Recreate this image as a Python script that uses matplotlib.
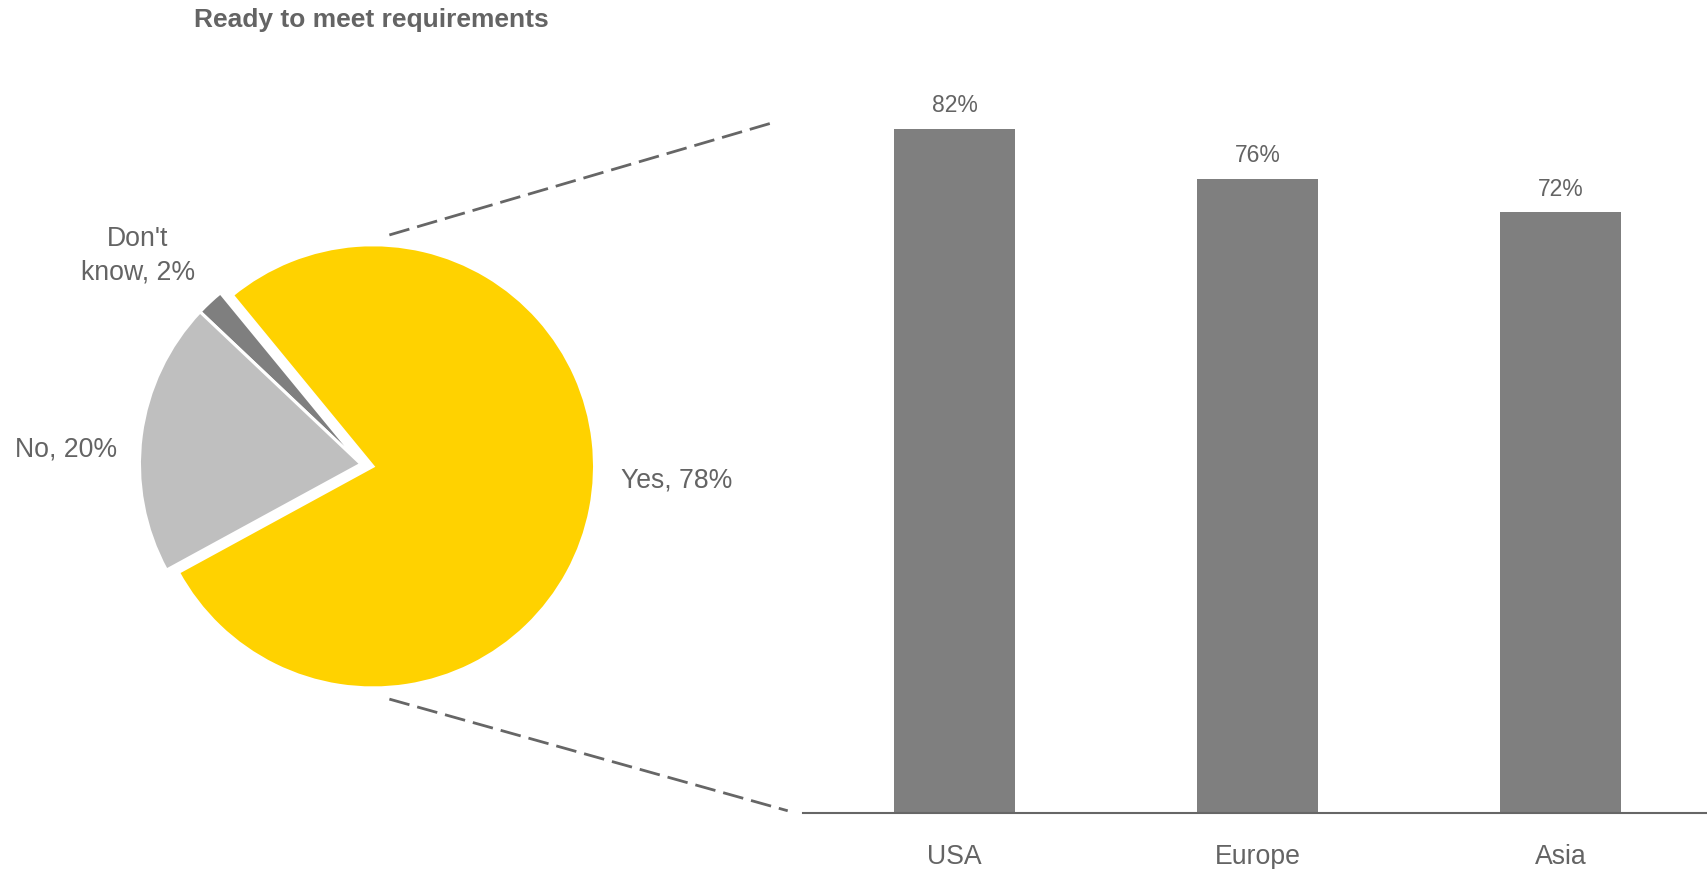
"""Readiness survey: overall pie (Yes / No / Don't know) + regional split of 'Yes'."""
import matplotlib
matplotlib.use("Agg")
import matplotlib.pyplot as plt

plt.rcParams.update({
    "font.family": ["Liberation Sans", "DejaVu Sans"],
    "text.color": "#646464",
})

# overall answer split (%)
pie_labels = ["Yes, 78%", "Don't\nknow, 2%", "No, 20%"]
pie_values = [78, 2, 20]
pie_colors = ["#FFD200", "#7F7F7F", "#BFBFBF"]

# 'Yes' share by region (%)
regions = ["USA", "Europe", "Asia"]
region_yes = [82, 76, 72]

TEXT = "#646464"
LINE = "#666666"
FS = 19.2

fig = plt.figure(figsize=(17.07, 8.69), dpi=100)

# pie: radius 1 == 221.5 px, centre at (360, 464) px
ax_pie = fig.add_axes([0.03574, 0.1208, 0.3515, 0.6904])
ax_pie.pie(pie_values, colors=pie_colors, startangle=208.6,
           explode=[0.055, 0, 0],
           wedgeprops=dict(edgecolor="white", linewidth=2.2))
ax_pie.set_xlim(-1.354, 1.354)
ax_pie.set_ylim(-1.354, 1.354)
ax_pie.set_aspect("equal")
ax_pie.axis("off")

ax_pie.text(1.174, -0.107, pie_labels[0], ha="left", va="baseline",
            fontsize=FS, color=TEXT)
ax_pie.text(-1.007, 0.835, pie_labels[1], ha="center", va="baseline",
            multialignment="center", linespacing=1.36, fontsize=FS,
            color=TEXT)
ax_pie.text(-1.102, 0.033, pie_labels[2], ha="right", va="baseline",
            fontsize=FS, color=TEXT)

# dashed connectors from the pie to the bar panel
dash = (0, (7.5, 2.9))
ax_pie.plot([0.128, 1.859], [1.034, 1.541], color=LINE, lw=2,
            ls=dash, clip_on=False)
ax_pie.plot([0.128, 1.926], [-1.061, -1.565], color=LINE, lw=2,
            ls=dash, clip_on=False)

fig.text(0.1137, 0.9686, "Ready to meet requirements", ha="left",
         va="baseline", fontsize=19, fontweight="bold", color=TEXT)

# bars
ax = fig.add_axes([0.4704, 0.0639, 0.5296, 0.8645])
x = range(len(regions))
bars = ax.bar(x, region_yes, width=0.4, color="#7F7F7F")
for b, v in zip(bars, region_yes):
    ax.annotate(f"{v}%", (b.get_x() + b.get_width() / 2, v),
                xytext=(0, 12), textcoords="offset points",
                ha="center", va="baseline", fontsize=16.5, color=TEXT)
ax.set_xlim(-0.5, 2.483)
ax.set_ylim(0, 90)
ax.set_xticks(list(x))
ax.set_xticklabels(regions, fontsize=FS, color=TEXT)
ax.tick_params(axis="x", length=0, pad=22)
ax.set_yticks([])
for s in ("top", "right", "left"):
    ax.spines[s].set_visible(False)
ax.spines["bottom"].set_color(LINE)
ax.spines["bottom"].set_linewidth(1.5)

fig.savefig("out.png", dpi=100)
